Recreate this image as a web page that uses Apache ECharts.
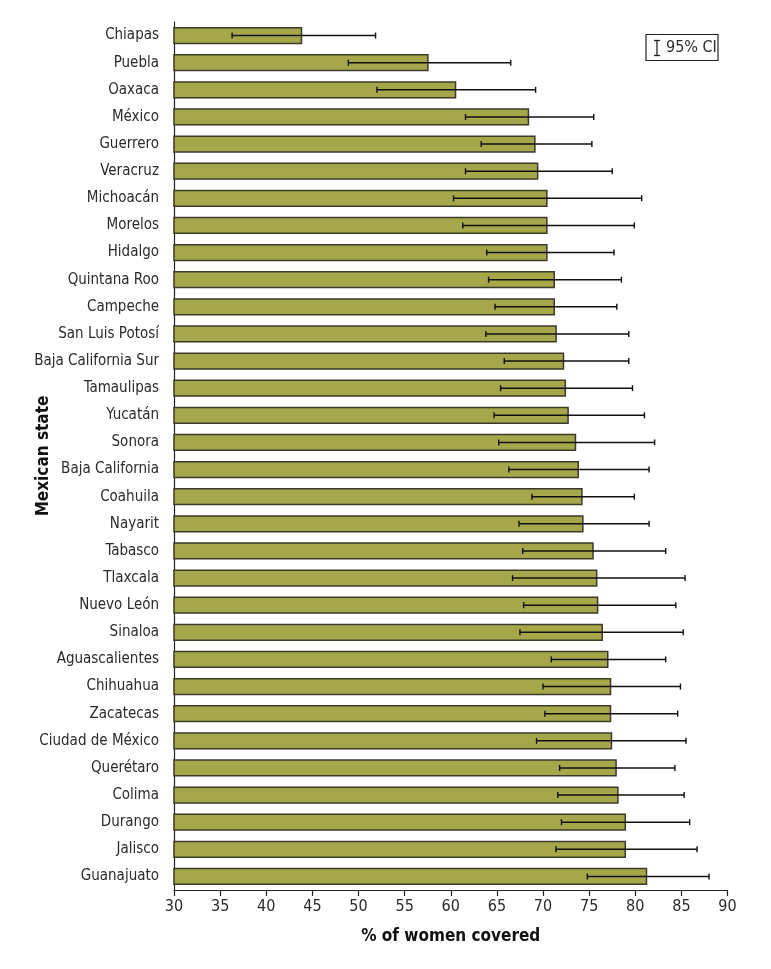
<!DOCTYPE html>
<html>
<head>
<meta charset="utf-8">
<script src="https://cdn.jsdelivr.net/npm/echarts@6/dist/echarts.min.js"></script>
<style>
html,body{margin:0;padding:0;background:#fff;}
#chart{width:771px;height:969px;}
</style>
</head>
<body>
<div id="chart"></div>
<script>
const states = ['Chiapas','Puebla','Oaxaca','México','Guerrero','Veracruz','Michoacán','Morelos','Hidalgo','Quintana Roo','Campeche','San Luis Potosí','Baja California Sur','Tamaulipas','Yucatán','Sonora','Baja California','Coahuila','Nayarit','Tabasco','Tlaxcala','Nuevo León','Sinaloa','Aguascalientes','Chihuahua','Zacatecas','Ciudad de México','Querétaro','Colima','Durango','Jalisco','Guanajuato'];
const coverage = [43.9,57.6,60.6,68.5,69.2,69.5,70.5,70.5,70.5,71.3,71.3,71.5,72.3,72.5,72.8,73.6,73.9,74.3,74.4,75.5,75.9,76.0,76.5,77.1,77.4,77.4,77.5,78.0,78.2,79.0,79.0,81.3];
const ciLow = [36.3,48.9,52.0,61.6,63.3,61.6,60.3,61.3,63.9,64.1,64.8,63.8,65.8,65.4,64.7,65.2,66.3,68.8,67.4,67.8,66.7,67.9,67.5,70.9,70.0,70.2,69.3,71.8,71.6,72.0,71.4,74.8];
const ciHigh = [51.85,66.5,69.2,75.5,75.3,77.5,80.7,79.9,77.7,78.5,78.0,79.3,79.3,79.7,81.0,82.1,81.5,79.9,81.5,83.3,85.4,84.4,85.2,83.3,84.9,84.6,85.5,84.3,85.3,85.9,86.7,88.0];
const xTicks = [30,35,40,45,50,55,60,65,70,75,80,85,90];

const FONT = '"Liberation Sans Narrow","DejaVu Sans Condensed","Roboto Condensed",sans-serif';
const chart = echarts.init(document.getElementById('chart'), null, {renderer:'canvas'});
const ciData = states.map((s,i)=>[ciLow[i], ciHigh[i], i]);

chart.setOption({
  animation:false,
  backgroundColor:'#fff',
  grid:{left:174, right:43.5, top:22, bottom:79, containLabel:false},
  xAxis:{
    type:'value', min:xTicks[0], max:xTicks[xTicks.length-1], interval:5,
    name:'% of women covered', nameLocation:'middle', nameGap:38, nameMoveOverlap:false,
    nameTextStyle:{fontFamily:FONT, fontSize:17, fontWeight:'bold', color:'#111'},
    axisLine:{show:true, lineStyle:{color:'#222', width:1.2}},
    axisTick:{show:true, length:6, lineStyle:{color:'#222', width:1.2}},
    axisLabel:{fontFamily:FONT, fontSize:16, color:'#2a2a2a', margin:9},
    splitLine:{show:false}
  },
  yAxis:{
    type:'category', data:states, inverse:true,
    name:'Mexican state', nameLocation:'middle', nameGap:122, nameRotate:90, nameMoveOverlap:false,
    nameTextStyle:{fontFamily:FONT, fontSize:17, fontWeight:'bold', color:'#111'},
    axisLine:{show:true, lineStyle:{color:'#222', width:1.2}},
    axisTick:{show:false},
    axisLabel:{fontFamily:FONT, fontSize:15, color:'#2a2a2a', margin:15},
    splitLine:{show:false}
  },
  series:[
    {
      type:'bar', data:coverage, barCategoryGap:'36%',
      itemStyle:{color:'#a6a74b', borderColor:'#3b3b2c', borderWidth:1.5},
      z:2
    },
    {
      type:'custom', data:ciData, z:3,
      encode:{x:[0,1], y:2},
      renderItem:function(params, api){
        const lo = api.coord([api.value(0), api.value(2)]);
        const hi = api.coord([api.value(1), api.value(2)]);
        const y = lo[1];
        const h = 3;
        const st = {stroke:'#111', lineWidth:1.4};
        return {type:'group', children:[
          {type:'line', shape:{x1:lo[0], y1:y, x2:hi[0], y2:y}, style:st},
          {type:'line', shape:{x1:lo[0], y1:y-h, x2:lo[0], y2:y+h}, style:st},
          {type:'line', shape:{x1:hi[0], y1:y-h, x2:hi[0], y2:y+h}, style:st}
        ]};
      }
    }
  ],
  graphic:[
    {type:'rect', shape:{x:646, y:34.5, width:72, height:26}, style:{fill:'#fff', stroke:'#222', lineWidth:1.2}},
    {type:'line', shape:{x1:657, y1:40.5, x2:657, y2:55.5}, style:{stroke:'#222', lineWidth:1.3}},
    {type:'line', shape:{x1:654, y1:40.5, x2:660, y2:40.5}, style:{stroke:'#222', lineWidth:1.3}},
    {type:'line', shape:{x1:654, y1:55.5, x2:660, y2:55.5}, style:{stroke:'#222', lineWidth:1.3}},
    {type:'text', x:666, y:48, style:{text:'95% CI', fontFamily:FONT, fontSize:16, fill:'#2a2a2a', verticalAlign:'middle', align:'left'}}
  ]
});
</script>
</body>
</html>
